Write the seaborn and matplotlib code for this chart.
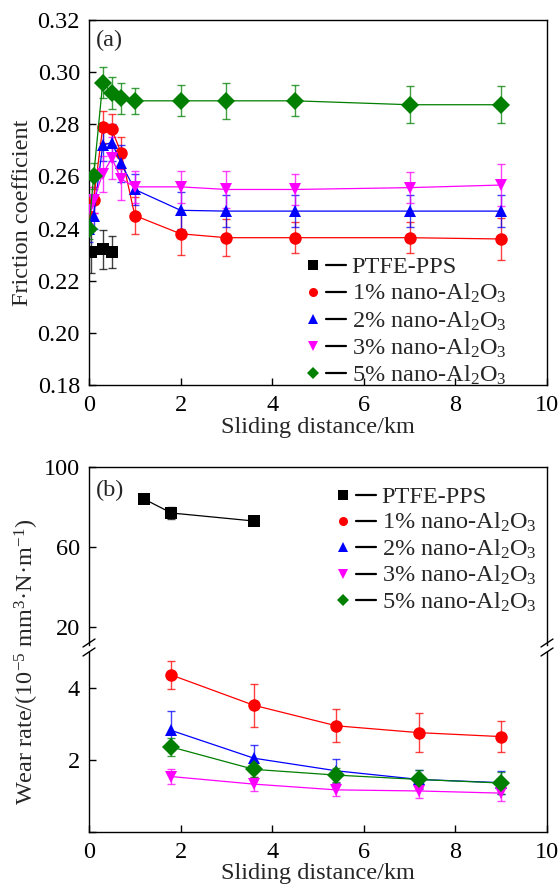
import matplotlib
matplotlib.use("Agg")
import matplotlib.pyplot as plt
import seaborn as sns
import pandas as pd
from matplotlib.lines import Line2D
from matplotlib.legend_handler import HandlerTuple

# ---- data: (a) friction coefficient vs sliding distance ----
series_names = ["PTFE-PPS", "1% nano-Al$\\mathregular{_2}$O$\\mathregular{_3}$",
                "2% nano-Al$\\mathregular{_2}$O$\\mathregular{_3}$",
                "3% nano-Al$\\mathregular{_2}$O$\\mathregular{_3}$",
                "5% nano-Al$\\mathregular{_2}$O$\\mathregular{_3}$"]
series_colors = ["#000000", "#ff0000", "#0000ff", "#ff00ff", "#007f00"]
series_markers = ["s", "o", "^", "v", "D"]

dist_a_ptfe = [0.05, 0.3, 0.5]
cof_ptfe = [0.231, 0.232, 0.231]
cof_ptfe_err = [0.008, 0.0075, 0.006]

dist_a = [0, 0.1, 0.3, 0.5, 0.7, 1, 2, 3, 4.5, 7, 9]
cof_1 = [0.245, 0.251, 0.279, 0.278, 0.269, 0.245, 0.238, 0.2365, 0.2365, 0.2365, 0.236]
cof_1_err = [0.005, 0.005, 0.006, 0.006, 0.006, 0.007, 0.008, 0.007, 0.006, 0.006, 0.008]
cof_2 = [0.240, 0.245, 0.272, 0.273, 0.265, 0.255, 0.247, 0.2467, 0.2467, 0.2467, 0.2467]
cof_2_err = [0.005, 0.005, 0.006, 0.007, 0.007, 0.006, 0.007, 0.006, 0.006, 0.006, 0.006]
cof_3 = [0.247, 0.251, 0.261, 0.267, 0.259, 0.256, 0.256, 0.255, 0.255, 0.2557, 0.2567]
cof_3_err = [0.005, 0.005, 0.007, 0.008, 0.008, 0.006, 0.006, 0.007, 0.006, 0.006, 0.008]
cof_5 = [0.240, 0.260, 0.296, 0.292, 0.290, 0.289, 0.289, 0.289, 0.289, 0.2875, 0.2875]
cof_5_err = [0.004, 0.005, 0.006, 0.006, 0.006, 0.005, 0.006, 0.007, 0.006, 0.007, 0.007]

# ---- data: (b) wear rate vs sliding distance ----
dist_b_ptfe = [1.2, 1.8, 3.6]
wear_ptfe = [84, 77, 73]
wear_ptfe_err = [2, 3, 1]

dist_b = [1.8, 3.6, 5.4, 7.2, 9]
wear_1 = [4.36, 3.52, 2.95, 2.76, 2.65]
wear_1_err = [0.39, 0.6, 0.46, 0.55, 0.42]
wear_2 = [2.82, 2.05, 1.70, 1.46, 1.37]
wear_2_err = [0.55, 0.36, 0.34, 0.26, 0.32]
wear_3 = [1.54, 1.33, 1.17, 1.14, 1.08]
wear_3_err = [0.2, 0.2, 0.18, 0.2, 0.22]
wear_5 = [2.36, 1.74, 1.58, 1.46, 1.36]
wear_5_err = [0.25, 0.2, 0.2, 0.25, 0.3]

xticks = [0, 2, 4, 6, 8, 10]
cof_ticks = [0.18, 0.20, 0.22, 0.24, 0.26, 0.28, 0.30, 0.32]

sns.set_theme(style="ticks")
plt.rcParams["font.family"] = ["Liberation Serif", "DejaVu Serif"]
plt.rcParams["mathtext.fontset"] = "custom"
plt.rcParams["mathtext.rm"] = "Liberation Serif"
plt.rcParams["mathtext.it"] = "Liberation Serif:italic"
plt.rcParams["axes.linewidth"] = 1.0
plt.rcParams["axes.edgecolor"] = "black"

FS = 17.5
palette = dict(zip(series_names, series_colors))
markers = dict(zip(series_names, series_markers))


def long_frame(parts):
    rows = []
    for name, xs, ys, es in parts:
        for x, y, e in zip(xs, ys, es):
            rows.append({"distance": x, "value": y, "err": e, "series": name})
    return pd.DataFrame(rows)


def draw(ax, df):
    for name, g in df.groupby("series", sort=False):
        ax.errorbar(g["distance"], g["value"], yerr=g["err"], fmt="none",
                    ecolor=palette[name], elinewidth=1.0, capsize=3.2,
                    capthick=1.0, alpha=0.75, zorder=2)
    sns.lineplot(data=df, x="distance", y="value", hue="series", style="series",
                 palette={k: palette[k] for k in df["series"].unique()},
                 markers={k: markers[k] for k in df["series"].unique()},
                 dashes=False, errorbar=None, sort=False, legend=False,
                 markersize=9, markeredgewidth=0, linewidth=0.9, alpha=1.0,
                 ax=ax, zorder=3)


def style_ticks(ax):
    ax.tick_params(direction="in", length=5, width=1.0, labelsize=FS,
                   colors="black", top=False, right=False)
    ax.tick_params(axis="x", pad=7.5)
    ax.tick_params(axis="y", pad=6.5)
    for s in ax.spines.values():
        s.set_color("black")
        s.set_linewidth(1.0)
    ax.set_xlabel("")
    ax.set_ylabel("")


def make_legend(ax, anchor, spacing):
    handles = []
    for name, c, m in zip(series_names, series_colors, series_markers):
        mk = Line2D([], [], linestyle="none", marker=m, color=c,
                    markersize=6.5, markeredgewidth=0)
        ln = Line2D([], [], color="black", linewidth=1.6)
        handles.append((mk, ln))
    leg = ax.figure.legend(handles, series_names,
                           handler_map={tuple: HandlerTuple(ndivide=None, pad=0.15)},
                           loc="upper left", bbox_to_anchor=anchor,
                           frameon=False, fontsize=FS, handlelength=1.75,
                           handletextpad=0.25, labelspacing=spacing,
                           borderpad=0, borderaxespad=0)
    return leg


W, H = 559, 886
fig = plt.figure(figsize=(W / 100, H / 100), dpi=100)

# ---- panel (a) ----
ax_a = fig.add_axes([89 / W, 1 - 385 / H, 458 / W, 365 / H])
df_a = long_frame([
    (series_names[0], dist_a_ptfe, cof_ptfe, cof_ptfe_err),
    (series_names[1], dist_a, cof_1, cof_1_err),
    (series_names[2], dist_a, cof_2, cof_2_err),
    (series_names[3], dist_a, cof_3, cof_3_err),
    (series_names[4], dist_a, cof_5, cof_5_err),
])
draw(ax_a, df_a)
ax_a.set_xlim(0, 10)
ax_a.set_ylim(0.18, 0.32)
ax_a.set_xticks(xticks)
ax_a.set_yticks(cof_ticks)
ax_a.set_yticklabels([f"{t:.2f}" for t in cof_ticks])
style_ticks(ax_a)
ax_a.text(0.016, 0.972, "(a)", transform=ax_a.transAxes, fontsize=FS,
          va="top", ha="left")
make_legend(ax_a, (303 / W, 1 - 256 / H), 0.165)

fig.text(23 / W, 1 - 213 / H, "Friction coefficient", rotation=90,
         fontsize=FS, ha="center", va="center")
fig.text(318 / W, 1 - 427 / H, "Sliding distance/km", fontsize=FS,
         ha="center", va="center")

# ---- panel (b): broken y axis ----
ax_bu = fig.add_axes([89 / W, 1 - 645 / H, 458 / W, 178 / H])
ax_bl = fig.add_axes([89 / W, 1 - 832 / H, 458 / W, 180 / H])

df_bu = long_frame([(series_names[0], dist_b_ptfe, wear_ptfe, wear_ptfe_err)])
df_bl = long_frame([
    (series_names[1], dist_b, wear_1, wear_1_err),
    (series_names[2], dist_b, wear_2, wear_2_err),
    (series_names[3], dist_b, wear_3, wear_3_err),
    (series_names[4], dist_b, wear_5, wear_5_err),
])
draw(ax_bu, df_bu)
draw(ax_bl, df_bl)

for ax in (ax_bu, ax_bl):
    ax.set_xlim(0, 10)
    style_ticks(ax)

ax_bu.set_ylim(11, 100)
ax_bu.set_yticks([20, 60, 100])
ax_bu.spines["bottom"].set_visible(False)
ax_bu.tick_params(axis="x", bottom=False, labelbottom=False)

ax_bl.set_ylim(0, 5)
ax_bl.set_yticks([0, 2, 4])
ax_bl.set_yticklabels(["", "2", "4"])
ax_bl.spines["top"].set_visible(False)
ax_bl.set_xticks(xticks)

ax_bu.text(0.016, 0.93, "(b)", transform=ax_bu.transAxes, fontsize=FS,
           va="top", ha="left")
make_legend(ax_bu, (333 / W, 1 - 486 / H), 0.13)

# break marks on both vertical spines
for xf in (89 / W, 547 / W):
    for yc in (643 / H, 652 / H):
        y0 = 1 - yc
        fig.add_artist(Line2D([xf - 6 / W, xf + 6 / W], [y0 - 4 / H, y0 + 4 / H],
                              color="black", linewidth=1.0))

fig.text(27 / W, 1 - 662 / H,
         "Wear rate/(10$\\mathregular{^{-5}}$ mm$\\mathregular{^3}$·N·m$\\mathregular{^{-1}}$)",
         rotation=90, fontsize=FS, ha="center", va="center")
fig.text(318 / W, 1 - 874 / H, "Sliding distance/km", fontsize=FS,
         ha="center", va="center")

fig.savefig("out.png", dpi=100)
